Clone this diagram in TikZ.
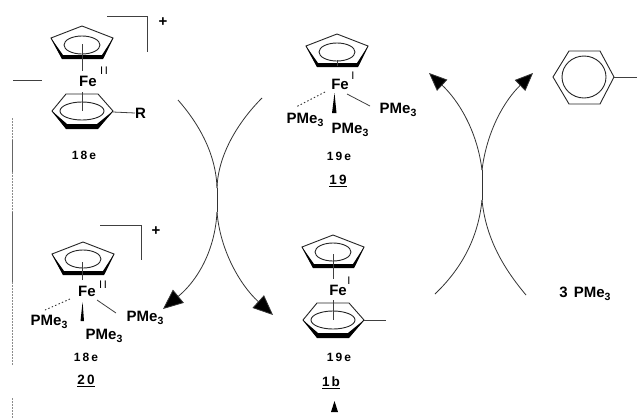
\documentclass[tikz,border=0pt]{standalone}
\usepackage{fontspec}
\setmainfont{Liberation Sans}
\usetikzlibrary{arrows.meta}
\newcommand{\pme}{PMe\raisebox{-3.5pt}{\fontsize{10.5}{10.5}\selectfont 3}}
\tikzset{
  x=1pt,y=-1pt,
  ring/.style={draw=black!85,line width=0.9pt},
  thin line/.style={draw=black!75,line width=0.8pt},
  dots/.style={draw=black!80,line width=0.9pt,dash pattern=on 1.5pt off 2.2pt},
  rim/.style={fill=black,draw=none},
  lbl/.style={inner sep=0pt,font=\fontsize{15}{15}\selectfont\bfseries},
  small/.style={inner sep=0pt,font=\fontsize{12}{12}\selectfont\bfseries},
  num/.style={inner sep=0pt,font=\fontsize{13.5}{14}\selectfont\bfseries},
  sup/.style={inner sep=0pt,font=\fontsize{11}{11}\selectfont},
  curve/.style={draw=black!80,line width=0.8pt},
  big/.style={curve,-{Triangle[length=20pt,width=17pt,fill=black]}},
  mid/.style={curve,-{Triangle[length=18pt,width=15pt,fill=black]}},
}
\newcommand{\cp}[3]{% cx, cy of apex-based pentagon
  \begin{scope}[shift={(#1,#2)}]
    \draw[ring] (0,0) -- (31,12) -- (21,32) -- (-20,32) -- (-31,12) -- cycle;
    \fill[rim] (-31,12) -- (-19,29) -- (20,29) -- (31,12) -- (21,33) -- (-20,33) -- cycle;
    \draw[ring] (0,#3) ellipse (18 and 9);
  \end{scope}}
\newcommand{\bz}[2]{% centre
  \begin{scope}[shift={(#1,#2)}]
    \draw[ring] (-30,0) -- (-16,-17) -- (16,-17) -- (31,0) -- (16,17) -- (-16,17) -- cycle;
    \fill[rim] (-30,0) -- (-15,13) -- (15,13) -- (31,0) -- (16,18) -- (-16,18) -- cycle;
    \draw[ring] (0,0) ellipse (22 and 9);
  \end{scope}}
\begin{document}
\begin{tikzpicture}
\useasboundingbox[fill=white] (0,0) rectangle (637,418);

% margin marks
\coordinate (ma) at (13,80); \coordinate (mb) at (42,80);
\draw[thin line] (ma) -- (mb);
\coordinate (v0) at (12,118); \coordinate (v1) at (12,140); \coordinate (v2) at (12,172);
\coordinate (v3) at (12,212); \coordinate (v4) at (12,282); \coordinate (v5) at (12,365);
\coordinate (v6) at (12,398); \coordinate (v7) at (12,418);
\draw[draw=black!45,line width=0.7pt,dash pattern=on 1.5pt off 1.5pt] (v0) -- (v1) (v2) -- (v3) (v4) -- (v5) (v6) -- (v7);
\draw[draw=black!60,line width=0.8pt] (v1) -- (v2) (v3) -- (v4);

% --- top-left complex
\cp{82}{26}{19}
\bz{82}{111}
\coordinate (a1) at (82,44); \coordinate (a2) at (82,71);
\coordinate (a3) at (82,92); \coordinate (a4) at (82,111);
\draw[thin line] (a1) -- (a2) (a3) -- (a4);
\node[lbl] (feA) at (88,81) {Fe};
\node[sup] (oxA) at (104,71) {I\,I};
\coordinate (a5) at (113,112);
\node[lbl,anchor=west] (rA) at (135,113) {R};
\draw[thin line] (a5) -- (rA.west);
\node[small] (eA) at (84,155) {1\,8\,e};
\coordinate (b1) at (107,16); \coordinate (b2) at (147,16); \coordinate (b3) at (147,52);
\draw[thin line] (b1) -- (b2) -- (b3);
\node[lbl] (plusA) at (163,22) {+};

% --- complex 20
\cp{83}{242}{17}
\coordinate (c1) at (82,262); \coordinate (c2) at (82,280);
\draw[thin line] (c1) -- (c2);
\node[lbl] (feB) at (87,291) {Fe};
\node[sup] (oxB) at (103,285) {I\,I};
\coordinate (c3) at (100,225); \coordinate (c4) at (141,225); \coordinate (c5) at (141,260);
\draw[thin line] (c3) -- (c4) -- (c5);
\node[lbl] (plusB) at (156,231) {+};
\node[lbl] (pB1) at (49,322) {\pme};
\node[lbl] (pB2) at (104,336) {\pme};
\node[lbl] (pB3) at (145,318) {\pme};
\coordinate (c6) at (70,299); \coordinate (c7) at (45,310);
\draw[dots] (c6) -- (c7);
\fill (82.6,302) -- (84,321) -- (80.5,321) -- cycle;
\coordinate (c8) at (97,300); \coordinate (c9) at (116,313);
\draw[thin line] (c8) -- (c9);
\node[small] (eB) at (86,357) {1\,8\,e};
\node[num] (nB) at (86,381) {\underline{2\,0}};

% --- complex 19
\cp{337}{34}{18}
\coordinate (d1) at (337,60); \coordinate (d2) at (337,66);
\draw[thin line] (d1) -- (d2);
\node[lbl] (feC) at (340,84) {Fe};
\node[sup] (oxC) at (353,76) {I};
\coordinate (d3) at (325,92); \coordinate (d4) at (296,107);
\draw[dots] (d3) -- (d4);
\fill (334.5,93) -- (336.5,113) -- (332,113) -- cycle;
\coordinate (d5) at (347,94); \coordinate (d6) at (370,106);
\draw[thin line] (d5) -- (d6);
\node[lbl] (pC1) at (305,120) {\pme};
\node[lbl] (pC2) at (350,130) {\pme};
\node[lbl] (pC3) at (398,110) {\pme};
\node[small] (eC) at (339,156) {1\,9\,e};
\node[num] (nC) at (338,181) {\underline{1\,9}};

% --- complex 1b
\cp{333}{235}{17}
\bz{333}{320}
\coordinate (e1) at (333,254); \coordinate (e2) at (333,279);
\coordinate (e3) at (333,300); \coordinate (e4) at (333,320);
\coordinate (e5) at (364,320); \coordinate (e6) at (386,320);
\draw[thin line] (e1) -- (e2) (e3) -- (e4) (e5) -- (e6);
\node[lbl] (feD) at (338,290) {Fe};
\node[sup] (oxD) at (349,281) {I};
\node[small] (eD) at (339,357) {1\,9\,e};
\node[num] (nD) at (331,383) {\underline{1\,b}};
\fill (334.5,401) -- (338,412) -- (331,412) -- cycle;

% --- free arene
\coordinate (h1) at (553,77); \coordinate (h2) at (569,51); \coordinate (h3) at (600,51);
\coordinate (h4) at (614,77); \coordinate (h5) at (600,104); \coordinate (h6) at (569,104);
\coordinate (h7) at (637,77);
\draw[ring] (h1) -- (h2) -- (h3) -- (h4) -- (h5) -- (h6) -- cycle;
\draw[ring] (584,77) ellipse (22 and 21);
\draw[thin line] (h4) -- (h7);

\node[lbl] (three) at (585,294) {3\hspace{6pt}\pme};

% --- left crossing arrows
\coordinate (l0) at (217,188); \coordinate (l1) at (217,212);
\coordinate (l2) at (178,100); \coordinate (l3) at (262,98);
\coordinate (l4) at (163,309); \coordinate (l5) at (273,315);
\draw[curve] (l2) .. controls (200,125) and (216,155) .. (l0);
\draw[curve] (l3) .. controls (238,122) and (218,155) .. (l0);
\draw[curve] (l0) -- (l1);
\draw[big] (l1) .. controls (215,250) and (198,280) .. (l4);
\draw[big] (l1) .. controls (220,250) and (240,285) .. (l5);

% --- right crossing arrows
\coordinate (r0) at (482,170); \coordinate (r1) at (482,200);
\coordinate (r2) at (429,73); \coordinate (r3) at (533,73);
\coordinate (r4) at (435,294); \coordinate (r5) at (526,295);
\draw[mid] (r0) .. controls (477,130) and (458,100) .. (r2);
\draw[mid] (r0) .. controls (487,130) and (505,100) .. (r3);
\draw[curve] (r0) -- (r1);
\draw[curve] (r1) .. controls (478,240) and (460,270) .. (r4);
\draw[curve] (r1) .. controls (486,240) and (505,270) .. (r5);
\end{tikzpicture}
\end{document}
